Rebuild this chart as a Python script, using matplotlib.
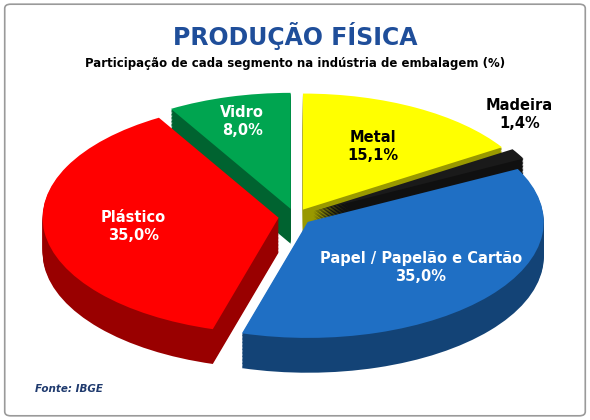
import matplotlib.pyplot as plt
import numpy as np
from matplotlib.colors import to_rgb
from matplotlib.patches import FancyBboxPatch

segments = ["Metal", "Madeira", "Papel / Papelão e Cartão", "Plástico", "Vidro"]
shares = [15.1, 1.4, 35.0, 35.0, 8.0]
share_labels = ["15,1%", "1,4%", "35,0%", "35,0%", "8,0%"]
colors = ["#ffff00", "#1a1a1a", "#1f6fc4", "#ff0000", "#00a550"]
explode = [0.07, 0.09, 0.07, 0.07, 0.07]

fig = plt.figure(figsize=(5.9, 4.2), dpi=100, facecolor="white")
fig.patches.append(FancyBboxPatch((0.008, 0.01), 0.984, 0.98, boxstyle="round,pad=0,rounding_size=0.01",
                                  transform=fig.transFigure, fill=False, edgecolor="#9a9a9a", lw=1.2))
ax = fig.add_axes([0.04, 0.1, 0.92, 0.71])

depth = 0.3
dark = [tuple(c * 0.6 for c in to_rgb(col)) for col in colors]
for d in np.linspace(depth, 0.01, 25):
    ax.pie(shares, colors=dark, explode=explode, startangle=90, counterclock=False,
           center=(0, -d), radius=1.0, wedgeprops=dict(linewidth=0))
ax.pie(shares, colors=colors, explode=explode, startangle=90, counterclock=False,
       radius=1.0, wedgeprops=dict(linewidth=0))
ax.set_aspect("auto")
ax.set_xlim(-1.15, 1.15)
ax.set_ylim(-1.39, 1.18)
ax.axis("off")

total = sum(shares)
start = 90.0
for name, val, lab, ex in zip(segments, shares, share_labels, explode):
    span = val / total * 360
    mid = np.deg2rad(start - span / 2)
    start -= span
    dist = 0.78 if name == "Vidro" else 0.62
    x = (dist + ex) * np.cos(mid)
    y = (dist + ex) * np.sin(mid)
    if name == "Madeira":
        x, y = 0.95, 0.88
    col = "black" if name in ("Metal", "Madeira") else "white"
    ax.text(x, y, f"{name}\n{lab}", ha="center", va="center", color=col,
            fontsize=10.5, fontweight="bold", linespacing=1.2)

fig.text(0.5, 0.915, "PRODUÇÃO FÍSICA", ha="center", va="center", fontsize=17,
         fontweight="bold", color="#1f4e9a")
fig.text(0.5, 0.85, "Participação de cada segmento na indústria de embalagem (%)",
         ha="center", va="center", fontsize=8.5, fontweight="bold")
fig.text(0.06, 0.075, "Fonte: IBGE", ha="left", va="center", fontsize=7.5,
         fontweight="bold", style="italic", color="#1f3a6e")

fig.savefig("out.png", dpi=100, facecolor="white")
